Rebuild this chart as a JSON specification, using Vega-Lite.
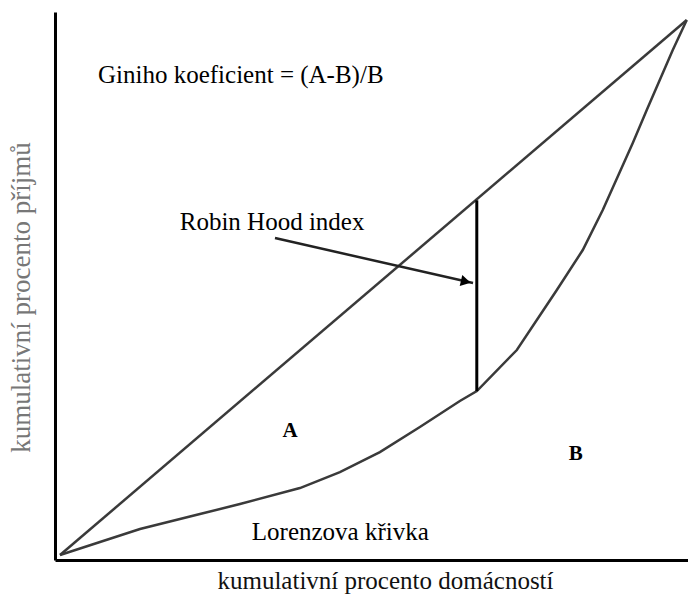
{
  "$schema": "https://vega.github.io/schema/vega-lite/v6.json",
  "width": 633,
  "height": 548,
  "autosize": {"type": "none"},
  "padding": {"left": 55, "top": 12, "right": 0, "bottom": 40},
  "background": "white",
  "config": {
    "font": "Liberation Serif",
    "view": {"stroke": null},
    "axis": {"domainColor": "black", "domainWidth": 3, "ticks": false, "labels": false, "grid": false, "titleFont": "Liberation Serif", "titleFontWeight": "normal", "titleFontSize": 25}
  },
  "datasets": {
    "lorenz": [
      {"x": 0, "y": 0}, {"x": 6.38, "y": 2.43}, {"x": 12.76, "y": 4.86}, {"x": 22.33, "y": 7.66},
      {"x": 28.71, "y": 9.53}, {"x": 38.28, "y": 12.52}, {"x": 44.66, "y": 15.51}, {"x": 51.04, "y": 19.25},
      {"x": 57.42, "y": 23.93}, {"x": 63.8, "y": 28.79}, {"x": 66.51, "y": 30.65}, {"x": 72.89, "y": 38.32},
      {"x": 79.27, "y": 49.53}, {"x": 83.41, "y": 57.01}, {"x": 86.6, "y": 64.49}, {"x": 91.39, "y": 77.0},
      {"x": 93.62, "y": 83.18}, {"x": 97.77, "y": 94.39}, {"x": 100, "y": 100}
    ],
    "diag": [{"x": 0, "y": 0}, {"x": 100, "y": 100}],
    "robin": [{"x": 66.5, "y": 30.65, "y2": 66.3}],
    "arrow": [{"x": 34.3, "y": 59.25, "x2": 65.9, "y2": 50.84}],
    "head": [{"x": 64.75, "y": 51.1}],
    "labels": [
      {"x": 6.06, "y": 88.2, "text": "Giniho koeficient = (A-B)/B"},
      {"x": 19.1, "y": 60.75, "text": "Robin Hood index"},
      {"x": 30.6, "y": 2.8, "text": "Lorenzova křivka"}
    ],
    "areas": [
      {"x": 36.7, "y": 22.06, "text": "A"},
      {"x": 82.3, "y": 17.76, "text": "B"}
    ]
  },
  "layer": [
    {
      "data": {"name": "diag"},
      "mark": {"type": "line", "color": "#3a3a3a", "strokeWidth": 2.5},
      "encoding": {
        "x": {"field": "x", "type": "quantitative", "scale": {"domain": [-0.8, 100.2], "nice": false, "zero": false},
          "axis": {"title": "kumulativní procento domácností", "titleColor": "#111", "titlePadding": 8, "titleX": 330}},
        "y": {"field": "y", "type": "quantitative", "scale": {"domain": [-0.93, 101.5], "nice": false, "zero": false},
          "axis": {"title": "kumulativní procento příjmů", "titleColor": "#777", "titlePadding": 20, "titleY": 285, "titleFontSize": 27}}
      }
    },
    {
      "data": {"name": "lorenz"},
      "mark": {"type": "line", "color": "#3a3a3a", "strokeWidth": 2.5},
      "encoding": {
        "x": {"field": "x", "type": "quantitative"},
        "y": {"field": "y", "type": "quantitative"}
      }
    },
    {
      "data": {"name": "robin"},
      "mark": {"type": "rule", "color": "black", "strokeWidth": 3},
      "encoding": {
        "x": {"field": "x", "type": "quantitative"},
        "y": {"field": "y", "type": "quantitative"},
        "y2": {"field": "y2"}
      }
    },
    {
      "data": {"name": "arrow"},
      "mark": {"type": "rule", "color": "#222", "strokeWidth": 2.5},
      "encoding": {
        "x": {"field": "x", "type": "quantitative"},
        "y": {"field": "y", "type": "quantitative"},
        "x2": {"field": "x2"},
        "y2": {"field": "y2"}
      }
    },
    {
      "data": {"name": "head"},
      "mark": {"type": "point", "shape": "triangle-right", "filled": true, "color": "black", "opacity": 1, "size": 130, "angle": 13},
      "encoding": {
        "x": {"field": "x", "type": "quantitative"},
        "y": {"field": "y", "type": "quantitative"}
      }
    },
    {
      "data": {"name": "labels"},
      "mark": {"type": "text", "font": "serif", "fontSize": 25, "fontWeight": "normal", "align": "left", "baseline": "alphabetic", "color": "black"},
      "encoding": {
        "x": {"field": "x", "type": "quantitative"},
        "y": {"field": "y", "type": "quantitative"},
        "text": {"field": "text"}
      }
    },
    {
      "data": {"name": "areas"},
      "mark": {"type": "text", "font": "serif", "fontSize": 21, "fontWeight": "bold", "align": "center", "baseline": "alphabetic", "color": "black"},
      "encoding": {
        "x": {"field": "x", "type": "quantitative"},
        "y": {"field": "y", "type": "quantitative"},
        "text": {"field": "text"}
      }
    }
  ]
}
